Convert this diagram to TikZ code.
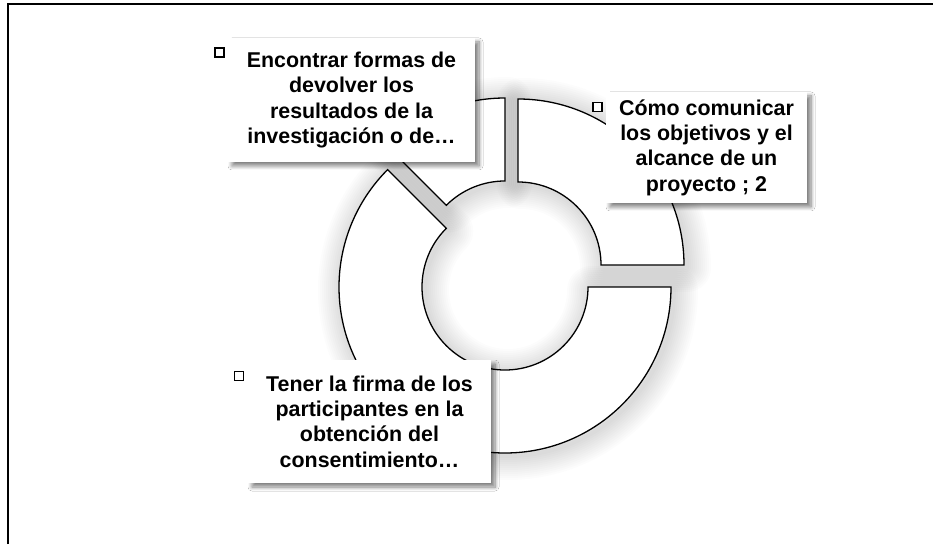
\documentclass[tikz,border=0pt]{standalone}
\usepackage{fontspec}
\setmainfont{Liberation Sans}
\usetikzlibrary{shadows.blur}
\tikzset{
  seg/.style={draw=black, line width=1.3pt, fill=white, line join=miter},
  softshade/.style={draw=black, line join=round, opacity=0.012},
  lbl/.style={rectangle, fill=white, draw=none, inner sep=0pt, align=center,
    font=\fontsize{21.4}{25.3}\selectfont\bfseries,
    blur shadow={shadow xshift=4pt, shadow yshift=-4pt, shadow blur radius=4pt, shadow blur steps=8, shadow opacity=50}},
  marker/.style={rectangle, draw=black, line width=1.2pt, fill=white, minimum size=9pt, inner sep=0pt},
  frame/.style={draw=black, line width=1.6pt}
}
\def\segA{(90:166) arc[start angle=90,end angle=0,radius=166] -- (0:83) arc[start angle=0,end angle=90,radius=83] -- cycle}
\def\segB{(0:166) arc[start angle=0,end angle=-225,radius=166] -- (135:83) arc[start angle=135,end angle=360,radius=83] -- cycle}
\def\segC{(90:166) arc[start angle=90,end angle=135,radius=166] -- (135:83) arc[start angle=135,end angle=90,radius=83] -- cycle}
\begin{document}
\begin{tikzpicture}[x=1pt,y=1pt]
\useasboundingbox (0,0) rectangle (933,544);
\fill[white] (0,0) rectangle (933,544);
\coordinate (f1) at (8,0);
\coordinate (f2) at (8,540);
\coordinate (f3) at (933,540);
\draw[frame] (f1) -- (f2) -- (f3);
% soft shadows of the segments
\foreach \w in {48,44,...,4} {
  \begin{scope}[shift={(521,276)}]
    \draw[softshade, line width=\w pt] \segA;
  \end{scope}
  \begin{scope}[shift={(508,254)}]
    \draw[softshade, line width=\w pt] \segB;
  \end{scope}
  \begin{scope}[shift={(508,277)}]
    \draw[softshade, line width=\w pt] \segC;
  \end{scope}
}
% segments
\begin{scope}[shift={(518,279)}]
  \draw[seg] \segA;
\end{scope}
\begin{scope}[shift={(505,257)}]
  \draw[seg] \segB;
\end{scope}
\begin{scope}[shift={(505,280)}]
  \draw[seg] \segC;
\end{scope}
% labels
\node[lbl, minimum width=247pt, minimum height=124pt] (b1) at (351.5,444) {Encontrar formas de\\devolver los\\resultados de la\\investigación o de…};
\node[lbl, minimum width=201pt, minimum height=111pt] (b2) at (706.5,396.5) {Cómo comunicar\\los objetivos y el\\alcance de un\\proyecto ; 2};
\node[lbl, minimum width=243pt, minimum height=123pt] (b3) at (369.5,122.5) {Tener la firma de los\\participantes en la\\obtención del\\consentimiento…};
\node[marker] (m1) at (219.5,491.5) {};
\node[marker] (m2) at (597.5,437) {};
\node[marker] (m3) at (239,168) {};
\end{tikzpicture}
\end{document}
